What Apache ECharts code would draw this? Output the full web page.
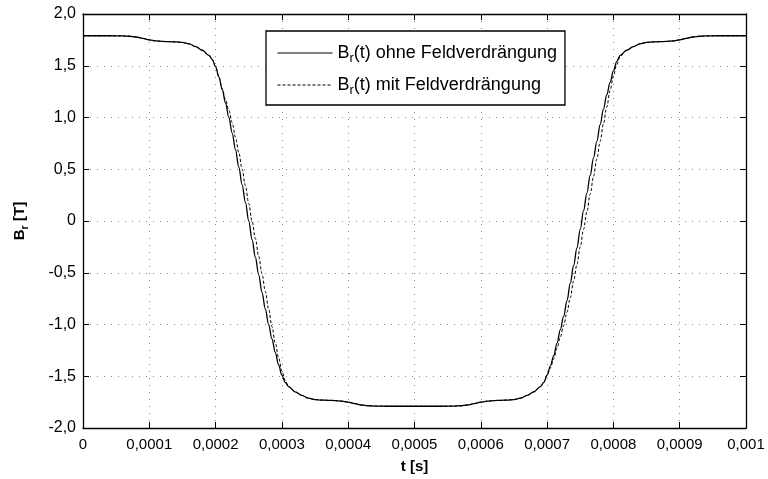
<!DOCTYPE html>
<html>
<head>
<meta charset="utf-8">
<script src="https://cdn.jsdelivr.net/npm/echarts@6/dist/echarts.min.js"></script>
<style>html,body{margin:0;padding:0;background:#fff}#c{width:768px;height:479px}</style>
</head>
<body>
<div id="c"></div>
<script>
// time points [s]
var tValues = [0, 0.00002, 0.00004, 0.00006, 0.00007, 0.00008, 0.00009, 0.0001, 0.00011, 0.00012, 0.00013, 0.00014, 0.00015, 0.00016, 0.00017, 0.00018, 0.00019,
  0.000195, 0.0002, 0.000205, 0.00021, 0.000215, 0.00022, 0.000225, 0.00023, 0.000235, 0.00024, 0.000245, 0.00025, 0.000255, 0.00026, 0.000265, 0.00027, 0.000275, 0.00028, 0.000285, 0.00029, 0.000295, 0.0003, 0.000305,
  0.00031, 0.00032, 0.00033, 0.00034, 0.00035, 0.00036, 0.00037, 0.00038, 0.00039, 0.0004, 0.00041, 0.00042, 0.00043, 0.00044,
  0.00046, 0.00048, 0.0005, 0.00052, 0.00054,
  0.00056, 0.00057, 0.00058, 0.00059, 0.0006, 0.00061, 0.00062, 0.00063, 0.00064, 0.00065, 0.00066, 0.00067, 0.00068, 0.00069,
  0.000695, 0.0007, 0.000705, 0.00071, 0.000715, 0.00072, 0.000725, 0.00073, 0.000735, 0.00074, 0.000745, 0.00075, 0.000755, 0.00076, 0.000765, 0.00077, 0.000775, 0.00078, 0.000785, 0.00079, 0.000795, 0.0008, 0.000805,
  0.00081, 0.00082, 0.00083, 0.00084, 0.00085, 0.00086, 0.00087, 0.00088, 0.00089, 0.0009, 0.00091, 0.00092, 0.00093, 0.00094,
  0.00096, 0.00098, 0.001];

// B_r(t) ohne Feldverdrängung [T]
var brOhne = [1.79, 1.79, 1.79, 1.788, 1.785, 1.778, 1.765, 1.75, 1.74, 1.735, 1.733, 1.73, 1.725, 1.712, 1.685, 1.65, 1.60,
  1.56, 1.49, 1.39, 1.27, 1.14, 1.00, 0.85, 0.69, 0.52, 0.35, 0.18, 0.0, -0.18, -0.35, -0.52, -0.69, -0.85, -1.00, -1.14, -1.27, -1.39, -1.49, -1.56,
  -1.60, -1.65, -1.685, -1.712, -1.725, -1.73, -1.733, -1.735, -1.74, -1.75, -1.765, -1.778, -1.785, -1.788,
  -1.79, -1.79, -1.79, -1.79, -1.79,
  -1.788, -1.785, -1.778, -1.765, -1.75, -1.74, -1.735, -1.733, -1.73, -1.725, -1.712, -1.685, -1.65, -1.60,
  -1.56, -1.49, -1.40, -1.30, -1.18, -1.05, -0.92, -0.77, -0.60, -0.43, -0.26, -0.08, 0.10, 0.27, 0.44, 0.61, 0.77, 0.93, 1.08, 1.22, 1.34, 1.45, 1.54,
  1.60, 1.65, 1.685, 1.712, 1.725, 1.73, 1.733, 1.735, 1.74, 1.75, 1.765, 1.778, 1.785, 1.788,
  1.79, 1.79, 1.79];

// B_r(t) mit Feldverdrängung [T]
var brMit = [1.79, 1.79, 1.79, 1.788, 1.785, 1.778, 1.765, 1.75, 1.74, 1.735, 1.733, 1.73, 1.725, 1.712, 1.685, 1.65, 1.60,
  1.56, 1.49, 1.39, 1.28, 1.17, 1.07, 0.95, 0.81, 0.66, 0.50, 0.34, 0.17, 0.0, -0.17, -0.34, -0.51, -0.68, -0.85, -1.02, -1.18, -1.32, -1.45, -1.54,
  -1.60, -1.65, -1.685, -1.712, -1.725, -1.73, -1.733, -1.735, -1.74, -1.75, -1.765, -1.778, -1.785, -1.788,
  -1.79, -1.79, -1.79, -1.79, -1.79,
  -1.788, -1.785, -1.778, -1.765, -1.75, -1.74, -1.735, -1.733, -1.73, -1.725, -1.712, -1.685, -1.65, -1.60,
  -1.56, -1.49, -1.42, -1.33, -1.23, -1.12, -1.01, -0.88, -0.74, -0.58, -0.42, -0.25, -0.08, 0.09, 0.26, 0.43, 0.60, 0.77, 0.94, 1.10, 1.26, 1.40, 1.51,
  1.59, 1.65, 1.685, 1.712, 1.725, 1.73, 1.733, 1.735, 1.74, 1.75, 1.765, 1.778, 1.785, 1.788,
  1.79, 1.79, 1.79];

var xTickLabels = ['0', '0,0001', '0,0002', '0,0003', '0,0004', '0,0005', '0,0006', '0,0007', '0,0008', '0,0009', '0,001'];
var yTickValues = [-2, -1.5, -1, -0.5, 0, 0.5, 1, 1.5, 2];
var yTickLabels = ['-2,0', '-1,5', '-1,0', '-0,5', '0', '0,5', '1,0', '1,5', '2,0'];
var seriesNames = ['ohne', 'mit'];
var legendTexts = ['(t) ohne Feldverdrängung', '(t) mit Feldverdrängung'];

var FONT = 'Liberation Sans, Arial, Helvetica, sans-serif';

function pairs(ys) { return tValues.map(function (t, i) { return [t, ys[i]]; }); }

var chart = echarts.init(document.getElementById('c'), null, { renderer: 'canvas' });

var gridLine = { show: true, lineStyle: { color: '#8a8a8a', width: 1, type: [1, 6] } };
var boxLine = { show: true, onZero: false, lineStyle: { color: '#000', width: 1.3 } };
var inTick = { show: true, inside: true, length: 6, lineStyle: { color: '#000', width: 1 } };

chart.setOption({
  animation: false,
  backgroundColor: '#fff',
  grid: { left: 83, right: 22, top: 14, bottom: 50, containLabel: false },
  legend: {
    orient: 'vertical',
    left: 266, top: 31,
    backgroundColor: '#fff',
    borderColor: '#000', borderWidth: 1.3,
    padding: [13, 8, 8, 11],
    itemWidth: 55, itemHeight: 14, itemGap: 11,
    data: seriesNames,
    itemStyle: { opacity: 0, borderWidth: 0 },
    lineStyle: { width: 1 },
    formatter: function (name) {
      return '{n|B}{s|r}{n|' + legendTexts[seriesNames.indexOf(name)] + '}';
    },
    textStyle: {
      fontFamily: FONT, color: '#000',
      rich: {
        n: { fontSize: 18, fontFamily: FONT, color: '#000' },
        s: { fontSize: 13, fontFamily: FONT, color: '#000', padding: [11, 0, 0, 0] }
      }
    }
  },
  xAxis: [{
    type: 'value', min: 0, max: 0.001, interval: 0.0001,
    axisLine: boxLine, axisTick: inTick, splitLine: gridLine,
    axisLabel: {
      color: '#000', fontSize: 15, fontFamily: FONT, margin: 9,
      formatter: function (v, i) { return xTickLabels[Math.round(v / 0.0001)]; }
    },
    name: 't [s]', nameLocation: 'middle', nameGap: 31,
    nameTextStyle: { color: '#000', fontSize: 15, fontWeight: 'bold', fontFamily: FONT }
  }, {
    type: 'value', position: 'top', min: 0, max: 0.001, interval: 0.0001,
    axisLine: boxLine, axisTick: inTick, splitLine: { show: false }, axisLabel: { show: false }
  }],
  yAxis: [{
    type: 'value', min: -2, max: 2, interval: 0.5,
    axisLine: boxLine, axisTick: inTick, splitLine: gridLine,
    axisLabel: {
      color: '#000', fontSize: 16, fontFamily: FONT, margin: 7,
      formatter: function (v) {
        var k = yTickValues.indexOf(Math.round(v * 2) / 2);
        return yTickLabels[k];
      }
    },
    name: '{b|B}{s|r}{b| [T]}', nameLocation: 'middle', nameGap: 53,
    nameTextStyle: {
      color: '#000', fontFamily: FONT,
      rich: {
        b: { fontSize: 15, fontWeight: 'bold', fontFamily: FONT, color: '#000' },
        s: { fontSize: 11, fontWeight: 'bold', fontFamily: FONT, color: '#000', padding: [9, 0, 0, 0] }
      }
    }
  }, {
    type: 'value', position: 'right', min: -2, max: 2, interval: 0.5,
    axisLine: boxLine, axisTick: inTick, splitLine: { show: false }, axisLabel: { show: false }
  }],
  series: [{
    name: 'ohne', type: 'line', data: pairs(brOhne),
    showSymbol: false, symbol: 'none', smooth: 0.35, smoothMonotone: 'x',
    itemStyle: { color: '#000' },
    lineStyle: { color: '#000', width: 1.3, type: 'solid' }, z: 3
  }, {
    name: 'mit', type: 'line', data: pairs(brMit),
    showSymbol: false, symbol: 'none', smooth: 0.35, smoothMonotone: 'x',
    itemStyle: { color: '#000' },
    lineStyle: { color: '#000', width: 1, type: [3, 2] }, z: 2
  }]
});
</script>
</body>
</html>
